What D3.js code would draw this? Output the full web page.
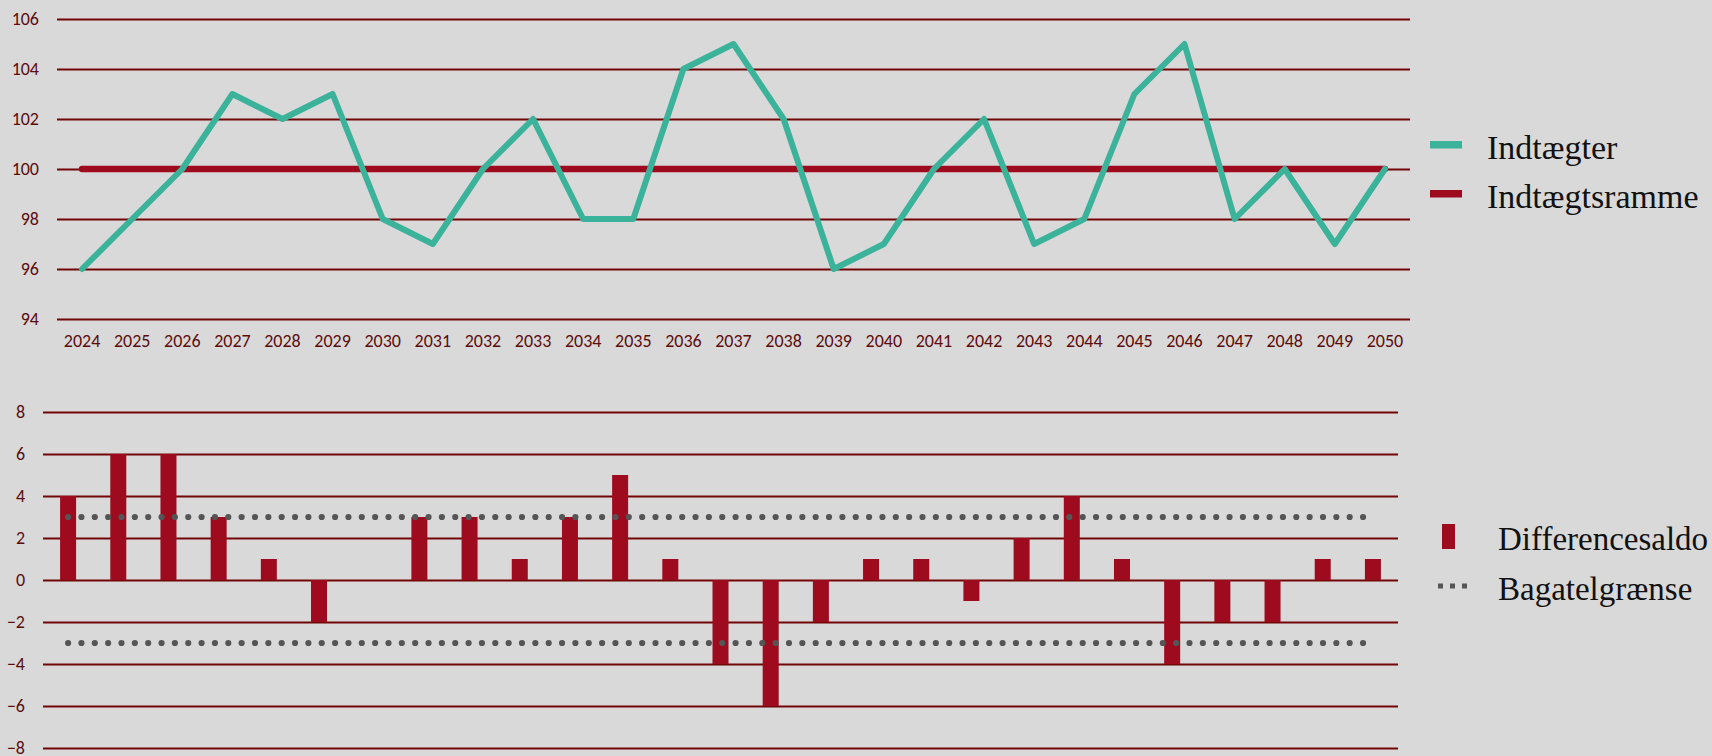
<!DOCTYPE html>
<html>
<head>
<meta charset="utf-8">
<script src="https://cdn.jsdelivr.net/npm/d3@7"></script>
<style>
  html, body { margin: 0; padding: 0; background: #D9D9D9; }
  svg { display: block; }
  .tick text { font-family: Carlito, "Open Sans", sans-serif; fill: #5C0B0B; }
</style>
</head>
<body>
<svg id="chart" width="1712" height="756"></svg>
<script>
const years = ["2024","2025","2026","2027","2028","2029","2030","2031","2032","2033","2034","2035","2036","2037","2038","2039","2040","2041","2042","2043","2044","2045","2046","2047","2048","2049","2050"];
const indtaegter = [96,98,100,103,102,103,98,97,100,102,98,98,104,105,102,96,97,100,102,97,98,103,105,98,100,97,100];
const indtaegtsramme = [100,100,100,100,100,100,100,100,100,100,100,100,100,100,100,100,100,100,100,100,100,100,100,100,100,100,100];
const differencesaldo = [4,6,6,3,1,-2,0,3,3,1,3,5,1,-4,-6,-2,1,1,-1,2,4,1,-4,-2,-2,1,1];
const bagatelOver = 3;
const bagatelUnder = -3;
const topTicks = [94,96,98,100,102,104,106];
const bottomTicks = [-8,-6,-4,-2,0,2,4,6,8];
const legendTop = ["Indtægter","Indtægtsramme"];
const legendBottom = ["Differencesaldo","Bagatelgrænse"];

const svg = d3.select("#chart");
const teal = "#3AB39A", red = "#9E0A1E", grid = "#720606", dotc = "#555555";

// ---------- Top chart ----------
const xT = d3.scaleBand().domain(years).range([57, 1410]);
const yT = d3.scaleLinear().domain([94, 106]).range([319, 19]);
const cx = d => xT(d) + xT.bandwidth() / 2;

const gyT = svg.append("g").attr("transform", "translate(57,0)")
  .call(d3.axisLeft(yT).tickValues(topTicks).tickSize(-(1410 - 57)).tickPadding(18).tickFormat(d3.format("d")));
gyT.select(".domain").remove();
gyT.selectAll(".tick line").attr("stroke", grid).attr("stroke-width", 2.2);
gyT.selectAll(".tick text").style("font-size", "18px");

const gxT = svg.append("g").attr("transform", "translate(0,327)")
  .call(d3.axisBottom(xT).tickSize(0).tickPadding(7));
gxT.select(".domain").remove();
gxT.selectAll(".tick text").style("font-size", "18px");

const line = d3.line().x((d, i) => cx(years[i])).y(d => yT(d));
svg.append("path").datum(indtaegtsramme).attr("d", line)
  .attr("fill", "none").attr("stroke", red).attr("stroke-width", 6.5).attr("stroke-linecap", "round");
svg.append("path").datum(indtaegter).attr("d", line)
  .attr("fill", "none").attr("stroke", teal).attr("stroke-width", 6).attr("stroke-linejoin", "round").attr("stroke-linecap", "round");

// top legend
const lgT = svg.append("g");
[teal, red].forEach((c, i) => {
  lgT.append("rect").attr("x", 1430).attr("y", 141 + i * 49).attr("width", 32).attr("height", 7.5).attr("fill", c);
  lgT.append("text").attr("x", 1487).attr("y", 159 + i * 49).text(legendTop[i])
    .attr("font-family", "'Liberation Serif', serif").attr("font-size", 34).attr("fill", "#111");
});

// ---------- Bottom chart ----------
const xBc = d3.scaleBand().domain(years).range([43, 1398]);
const yB = d3.scaleLinear().domain([-8, 8]).range([748, 412]);

const gyB = svg.append("g").attr("transform", "translate(43,0)")
  .call(d3.axisLeft(yB).tickValues(bottomTicks).tickSize(-(1398 - 43)).tickPadding(18).tickFormat(d3.format("d")));
gyB.select(".domain").remove();
gyB.selectAll(".tick line").attr("stroke", grid).attr("stroke-width", 2.2);
gyB.selectAll(".tick text").style("font-size", "18px");

svg.append("g").selectAll("rect").data(differencesaldo).join("rect")
  .attr("x", (d, i) => xBc(years[i]) + xBc.bandwidth() / 2 - 8)
  .attr("width", 16)
  .attr("y", d => yB(Math.max(0, d)))
  .attr("height", d => Math.abs(yB(d) - yB(0)))
  .attr("fill", red);

[bagatelOver, bagatelUnder].forEach(v => {
  svg.append("line")
    .attr("x1", xBc(years[0]) + xBc.bandwidth() / 2)
    .attr("x2", xBc(years[years.length - 1]) + xBc.bandwidth() / 2)
    .attr("y1", yB(v)).attr("y2", yB(v))
    .attr("stroke", dotc).attr("stroke-width", 6.2)
    .attr("stroke-linecap", "round").attr("stroke-dasharray", "0 13.35");
});

// bottom legend
const lgB = svg.append("g");
lgB.append("rect").attr("x", 1442).attr("y", 524).attr("width", 13).attr("height", 25).attr("fill", red);
lgB.append("line").attr("x1", 1438).attr("x2", 1469).attr("y1", 586).attr("y2", 586)
  .attr("stroke", dotc).attr("stroke-width", 5).attr("stroke-dasharray", "5 7");
legendBottom.forEach((t, i) => {
  lgB.append("text").attr("x", 1498).attr("y", 550 + i * 50).text(t)
    .attr("font-family", "'Liberation Serif', serif").attr("font-size", 33).attr("fill", "#111");
});
</script>
</body>
</html>
